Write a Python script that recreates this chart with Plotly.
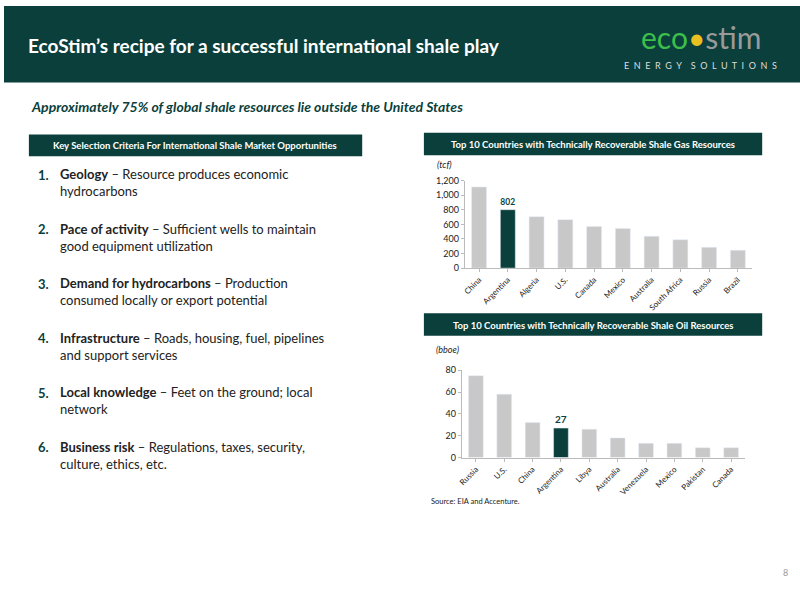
import plotly.graph_objects as go

gas_countries = ["China","Argentina","Algeria","U.S.","Canada","Mexico","Australia","South Africa","Russia","Brazil"]
gas_values = [1115, 802, 707, 665, 573, 545, 437, 390, 285, 245]
oil_countries = ["Russia","U.S.","China","Argentina","Libya","Australia","Venezuela","Mexico","Pakistan","Canada"]
oil_values = [75, 58, 32, 27, 26, 18, 13, 13, 9, 9]
highlight = "Argentina"

TEAL = "#0b3f3c"
GREY = "#c8c8c8"
F = "Lato"

def colors(cs):
    return [TEAL if c == highlight else GREY for c in cs]

fig = go.Figure()
fig.add_bar(x=gas_countries, y=gas_values, marker_color=colors(gas_countries), width=0.52,
            xaxis="x", yaxis="y",
            text=[f"<b>{v}</b>" if c == highlight else "" for c, v in zip(gas_countries, gas_values)],
            textposition="outside", textfont=dict(color=TEAL, size=10, family=F), cliponaxis=False)
fig.add_bar(x=oil_countries, y=oil_values, marker_color=colors(oil_countries), width=0.52,
            xaxis="x2", yaxis="y2",
            text=[f"<b>{v}</b>" if c == highlight else "" for c, v in zip(oil_countries, oil_values)],
            textposition="outside", textfont=dict(color=TEAL, size=10, family=F), cliponaxis=False)

axx = dict(showgrid=False, showline=True, linecolor="#bbbbbb", ticks="outside", ticklen=3,
           tickcolor="#bbbbbb", tickangle=-45, tickfont=dict(size=8, family=F, color="#222"))
axy = dict(showgrid=False, showline=True, linecolor="#bbbbbb", ticks="outside", ticklen=3,
           tickcolor="#bbbbbb", tickfont=dict(size=9, family=F, color="#222"), zeroline=False)

shapes = [
    dict(type="rect", xref="paper", yref="paper", x0=0, x1=1, y0=1-78/600, y1=1, fillcolor=TEAL, line_width=0, layer="below"),
    dict(type="rect", xref="paper", yref="paper", x0=25/800, x1=360/800, y0=1-153/600, y1=1-131/600, fillcolor=TEAL, line_width=0, layer="below"),
    dict(type="rect", xref="paper", yref="paper", x0=422/800, x1=762/800, y0=1-152/600, y1=1-129/600, fillcolor=TEAL, line_width=0, layer="below"),
    dict(type="rect", xref="paper", yref="paper", x0=422/800, x1=762/800, y0=1-336/600, y1=1-313/600, fillcolor=TEAL, line_width=0, layer="below"),
]

def ann(x, y, text, size, color, xanchor="left", **kw):
    return dict(xref="paper", yref="paper", x=x/800, y=1-y/600, text=text, showarrow=False,
                xanchor=xanchor, yanchor="middle", align="left",
                font=dict(size=size, color=color, family=F), **kw)

anns = [
    ann(22, 40, "<b>EcoStim’s recipe for a successful international shale play</b>", 19, "white"),
    ann(700, 32, "<span style='color:#3cc04a'>eco</span><span style='color:#e8c020'>•</span><span style='color:#9a9a9a'>stim</span>", 30, "white", xanchor="center"),
    ann(700, 61, "E  N  E  R  G  Y    S  O  L  U  T  I  O  N  S", 9, "#dddddd", xanchor="center"),
    ann(25, 102, "<b><i>Approximately 75% of global shale resources lie outside the United States</i></b>", 14, TEAL),
    ann(192, 142, "<b>Key Selection Criteria For International Shale Market Opportunities</b>", 9.5, "white", xanchor="center"),
    ann(592, 141, "<b>Top 10 Countries with Technically Recoverable Shale Gas Resources</b>", 9.5, "white", xanchor="center"),
    ann(592, 325, "<b>Top 10 Countries with Technically Recoverable Shale Oil Resources</b>", 9.5, "white", xanchor="center"),
    ann(433, 161, "<i>(tcf)</i>", 9, "#222"),
    ann(432, 350, "<i>(bboe)</i>", 9, "#222"),
    ann(427, 505, "Source: EIA and Accenture.", 7.5, "#222"),
    ann(790, 577, "8", 9, "#999", xanchor="right"),
]

items = [
    ("Geology", " – Resource produces economic<br>hydrocarbons"),
    ("Pace of activity", " – Sufficient wells to maintain<br>good equipment utilization"),
    ("Demand for hydrocarbons", " – Production<br>consumed locally or export potential"),
    ("Infrastructure", " – Roads, housing, fuel, pipelines<br>and support services"),
    ("Local knowledge", " – Feet on the ground; local<br>network"),
    ("Business risk", " – Regulations, taxes, security,<br>culture, ethics, etc."),
]
for i, (b, r) in enumerate(items):
    y = 172 + i * 55.5
    anns.append(ann(32, y, f"<b>{i+1}.</b>", 13, TEAL))
    anns.append(ann(54, y + 8, f"<b>{b}</b>{r}", 13, "#222"))

fig.update_layout(
    width=800, height=600, margin=dict(l=0, r=0, t=0, b=0),
    paper_bgcolor="white", plot_bgcolor="white", showlegend=False, bargap=0.45,
    xaxis=dict(domain=[463/800, 752/800], anchor="y", **axx),
    yaxis=dict(domain=[1-267/600, 1-178/600], anchor="x", range=[0, 1200], dtick=200,
               tickformat=",", **axy),
    xaxis2=dict(domain=[460/800, 745/800], anchor="y2", **axx),
    yaxis2=dict(domain=[1-460/600, 1-371/600], anchor="x2", range=[0, 80], dtick=20, **axy),
    shapes=shapes, annotations=anns,
)
fig.write_html("out.html", config={"displayModeBar": False},
               post_script="document.documentElement.style.cssText='margin:0;padding:0;overflow:hidden';"
                           "document.body.style.cssText='margin:0;padding:0;overflow:hidden';"
                           "var g=document.getElementById('{plot_id}');g.style.position='fixed';g.style.left='0';g.style.top='0';")
